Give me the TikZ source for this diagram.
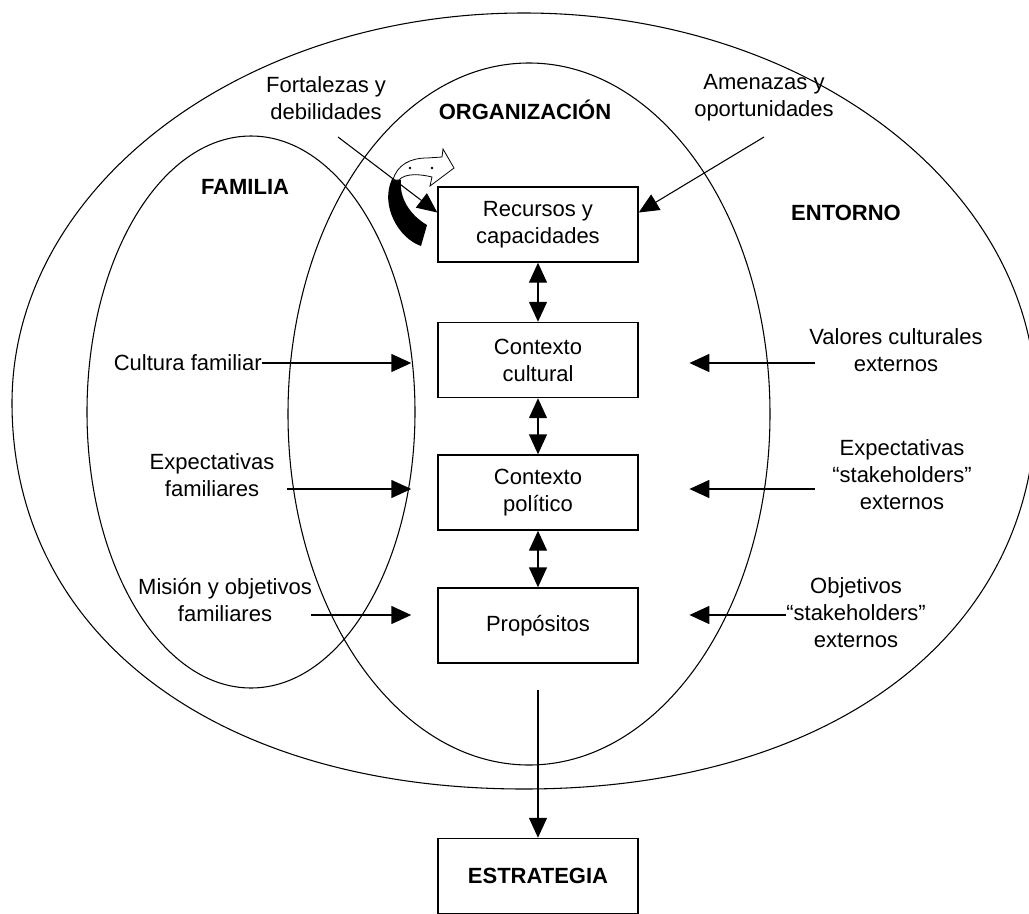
\documentclass[tikz,border=0pt]{standalone}
\usepackage{fontspec}
\setmainfont{Liberation Sans}
\usetikzlibrary{arrows.meta}
\tikzset{
  caja/.style={draw, line width=1.1pt, minimum width=150pt, minimum height=56.25pt, align=center, inner sep=0pt},
  texto/.style={align=center, inner sep=0pt},
  flecha/.style={line width=1.1pt, -{Triangle[length=15pt,width=13.5pt]}},
  doble/.style={line width=1.1pt, {Triangle[length=15pt,width=13.5pt]}-{Triangle[length=15pt,width=13.5pt]}},
  anillo/.style={line width=0.8pt}
}
\begin{document}
\begin{tikzpicture}[x=0.75pt,y=-0.75pt, font=\fontsize{16.5}{20.25}\selectfont]
		\useasboundingbox (0,0) rectangle (1029,914);
		\draw[anillo] (12,403) .. controls (12,188) and (241,13) .. (524,13) .. controls (807,13) and (1036,188) .. (1036,403) .. controls (1036,635) and (831,789) .. (524,789) .. controls (217,789) and (12,635) .. cycle;
		\draw[anillo] (529,414) ellipse [x radius=180.75pt, y radius=263.25pt];
		\draw[anillo] (251,412) ellipse [x radius=123pt, y radius=207pt];
		\node[caja] (recursos) at (538,224.5) {Recursos y\\capacidades};
		\node[caja] (cultura) at (538,360) {Contexto\\cultural};
		\node[caja] (politico) at (538,492.5) {Contexto\\político};
		\node[caja] (propositos) at (538,625.5) {Propósitos};
		\node[caja] (estrategia) at (538,876) {\textbf{ESTRATEGIA}};
		\node[texto] (fort) at (326,98) {Fortalezas y\\debilidades};
		\node[texto] (org) at (525,110) {\textbf{ORGANIZACIÓN}};
		\node[texto] (amen) at (764,98) {Amenazas y\\oportunidades};
		\node[texto] (familia) at (245,187) {\textbf{FAMILIA}};
		\node[texto] (entorno) at (846,213) {\textbf{ENTORNO}};
		\node[texto, anchor=east] (cultfam) at (262,363) {Cultura familiar};
		\node[texto] (valores) at (896,350) {Valores culturales\\externos};
		\node[texto] (expfam) at (212,475) {Expectativas\\familiares};
		\node[texto] (expstk) at (902,475) {Expectativas\\“stakeholders”\\externos};
		\node[texto] (misfam) at (225,600) {Misión y objetivos\\familiares};
		\node[texto] (objstk) at (856,613) {Objetivos\\“stakeholders”\\externos};
		\coordinate (fortini) at (338,137);
		\coordinate (amenini) at (764,137);
		\coordinate (expfamini) at (287,489);
		\coordinate (misfamini) at (311,615);
		\coordinate (valini) at (815,363);
		\coordinate (expstkini) at (815,489);
		\coordinate (objstkini) at (786,615);
		\draw[doble] (recursos) -- (cultura);
		\draw[doble] (cultura) -- (politico);
		\draw[doble] (politico) -- (propositos);
		\draw[flecha, shorten <=19.5pt] (propositos) -- (estrategia);
		\draw[flecha, shorten >=19.5pt] (cultfam.east) -- (cultfam.east -| cultura.west);
		\draw[flecha, shorten >=19.5pt] (expfamini) -- (expfamini -| politico.west);
		\draw[flecha, shorten >=19.5pt] (misfamini) -- (misfamini -| propositos.west);
		\draw[flecha, shorten >=38pt] (valini) -- (valini -| cultura.east);
		\draw[flecha, shorten >=38pt] (expstkini) -- (expstkini -| politico.east);
		\draw[flecha, shorten >=38pt] (objstkini) -- (objstkini -| propositos.east);
		\fill (392,179) .. controls (380,205) and (398,238) .. (421,246) -- (427,225) .. controls (410,215) and (399,198) .. (401,180) -- cycle;
		\draw[fill=white, line width=0.6pt] (393,180) .. controls (397,165) and (410,158) .. (427,158) -- (442,157) -- (443,149) -- (454,168) -- (430,186) -- (432,177) .. controls (420,174) and (405,173) .. (399,180) -- cycle;
		\fill (410,168) circle (1.3);
		\fill (432,168) circle (1.3);
		\draw[flecha, line width=0.8pt] (fortini) -- ([yshift=9pt]recursos.west);
		\draw[flecha, line width=0.8pt] (amenini) -- ([yshift=9pt]recursos.east);
\end{tikzpicture}
\end{document}
